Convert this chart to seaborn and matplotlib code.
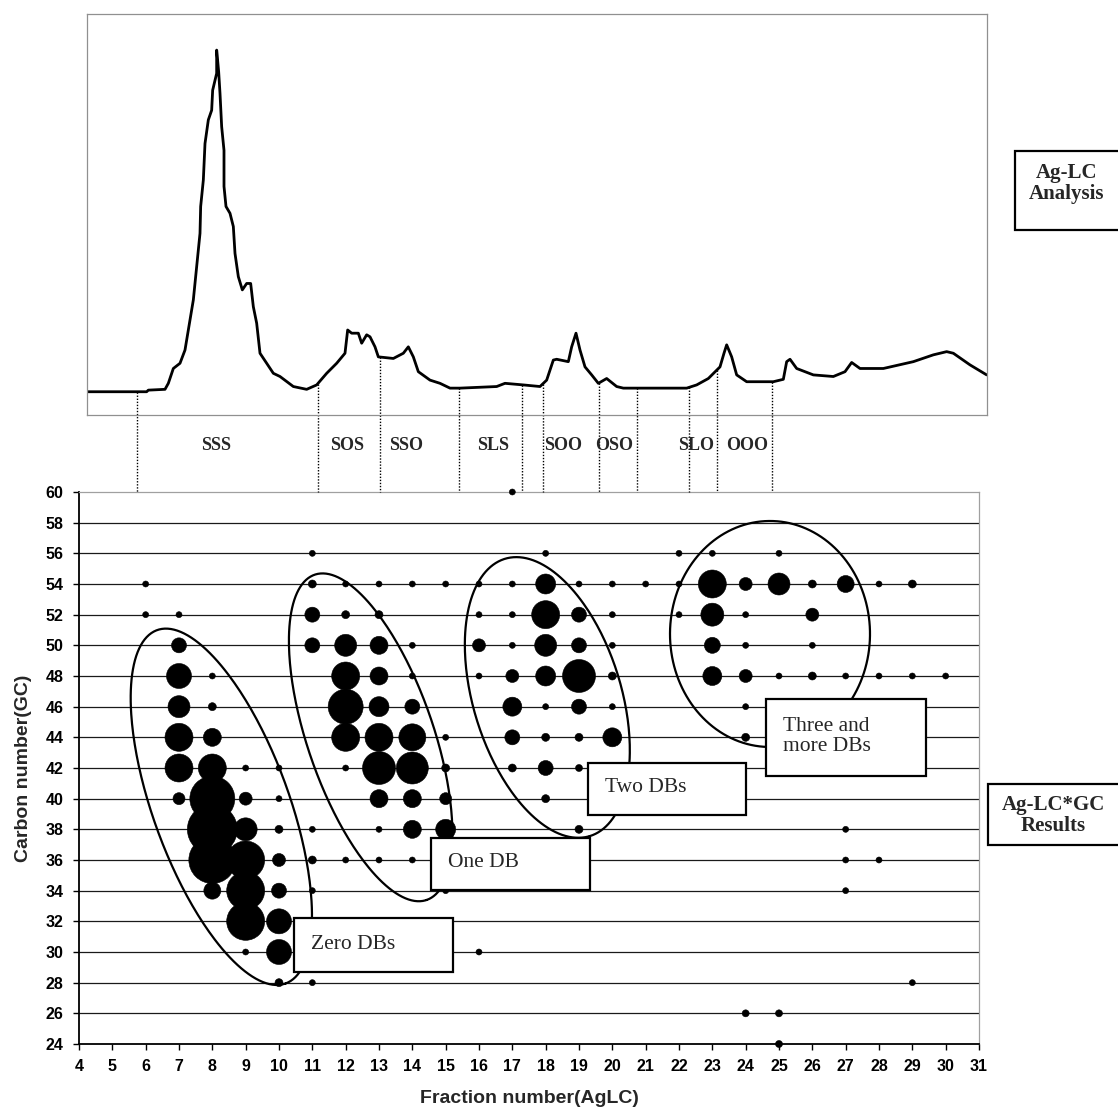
import numpy as np
import pandas as pd
import matplotlib
matplotlib.use("Agg")
import matplotlib.pyplot as plt
from matplotlib.patches import Rectangle
import seaborn as sns

# ---------------- data ----------------
# Ag-LC chromatogram trace (x in fraction units, height in % of panel)
trace_x = [4.23, 6.03, 6.08, 6.58, 6.68, 6.83, 7.03, 7.18, 7.28, 7.43,
           7.53, 7.63, 7.65, 7.73, 7.78, 7.88, 7.98, 8.01, 8.13, 8.13,
           8.19, 8.23, 8.28, 8.35, 8.35, 8.41, 8.53, 8.63, 8.68, 8.78,
           8.90, 9.03, 9.15, 9.23, 9.33, 9.43, 9.63, 9.83, 10.03, 10.43,
           10.83, 11.13, 11.43, 11.73, 11.98, 12.06, 12.18, 12.38, 12.48, 12.63,
           12.73, 12.88, 12.98, 13.43, 13.73, 13.88, 14.03, 14.18, 14.53, 14.83,
           15.13, 15.43, 16.53, 16.78, 17.33, 17.83, 18.03, 18.23, 18.33, 18.68,
           18.78, 18.91, 19.03, 19.18, 19.38, 19.58, 19.83, 20.13, 20.33, 22.23,
           22.53, 22.88, 23.23, 23.35, 23.43, 23.58, 23.73, 24.03, 24.83, 25.13,
           25.23, 25.33, 25.53, 26.03, 26.63, 26.98, 27.18, 27.43, 28.13, 29.03,
           29.63, 30.03, 30.23, 30.73, 31.23]
trace_h = [5.8, 5.8, 6.2, 6.4, 7.9, 11.6, 12.9, 16.2, 21.2, 28.7,
           37, 45.3, 52, 58.6, 67.7, 73.6, 76, 81, 85.2, 91,
           85.6, 80.2, 71.9, 66, 57, 52, 50.3, 47, 40.3, 34.5,
           31.2, 32.8, 32.8, 27, 22.9, 15.4, 12.9, 10.4, 9.6, 7.1,
           6.4, 7.5, 10.4, 12.9, 15.4, 21.2, 20.4, 20.4, 17.9, 20,
           19.5, 17, 14.5, 14.1, 15.4, 17, 14.5, 10.8, 8.7, 7.9,
           6.7, 6.7, 7.1, 7.9, 7.5, 7.1, 8.7, 13.7, 13.9, 13.3,
           17, 20.4, 16.2, 12, 10, 7.9, 9.1, 7.1, 6.7, 6.7,
           7.5, 9.1, 12, 15.4, 17.5, 14.5, 10, 8.3, 8.3, 8.9,
           13.3, 13.9, 11.6, 10, 9.6, 10.8, 13.1, 11.6, 11.6, 13.3,
           15, 15.8, 15.4, 12.5, 10]

# fraction cut points and TAG names
cut_x = [5.73, 11.16, 13.03, 15.41, 17.3, 17.91, 19.6, 20.73, 22.31, 23.15, 24.78]
tag_names = ["SSS", "SOS", "SSO", "SLS", "SOO", "OSO", "SLO", "OOO"]
tag_x = [8.1, 12.04, 13.81, 16.42, 18.52, 20.06, 22.52, 24.03]

# Ag-LC*GC spots: fraction, carbon number, spot diameter (px)
bub_frac = [17,
            11, 18, 22, 23, 25,
            6, 11, 12, 13, 14, 15, 16, 17, 18, 19, 20, 21, 22, 23, 24, 25, 26, 27, 28, 29,
            6, 7, 11, 12, 13, 16, 17, 18, 19, 20, 22, 23, 24, 26,
            7, 11, 12, 13, 14, 16, 17, 18, 19, 20, 23, 24, 26,
            7, 8, 12, 13, 14, 16, 17, 18, 19, 20, 23, 24, 25, 26, 27, 28, 29, 30,
            7, 8, 12, 13, 14, 17, 18, 19, 20, 24,
            7, 8, 12, 13, 14, 15, 17, 18, 19, 20, 24,
            7, 8, 9, 10, 12, 13, 14, 15, 17, 18, 19,
            7, 8, 9, 10, 13, 14, 15, 18,
            8, 9, 10, 11, 13, 14, 15, 19, 27,
            8, 9, 10, 11, 12, 13, 14, 27, 28,
            8, 9, 10, 11, 15, 27,
            9, 10,
            9, 10, 16,
            10, 11, 29,
            24, 25,
            25]
bub_carbon = ([60] + [56] * 5 + [54] * 20 + [52] * 14 + [50] * 13 + [48] * 18
              + [46] * 10 + [44] * 11 + [42] * 11 + [40] * 8 + [38] * 9 + [36] * 9
              + [34] * 6 + [32] * 2 + [30] * 3 + [28] * 3 + [26] * 2 + [24])
bub_spot = [6,
            6, 6, 6, 6, 6,
            6, 8, 6, 6, 6, 6, 6, 6, 20, 6, 6, 6, 6, 28, 13, 22, 8, 17, 6, 8,
            6, 6, 15, 8, 8, 6, 6, 28, 15, 6, 6, 23, 6, 13,
            15, 15, 22, 18, 6, 13, 6, 22, 15, 6, 16, 6, 6,
            25, 6, 28, 18, 6, 6, 13, 20, 33, 8, 19, 13, 6, 8, 6, 6, 6, 6,
            22, 8, 35, 20, 15, 19, 6, 15, 6, 6,
            28, 18, 28, 28, 27, 6, 15, 8, 8, 19, 8,
            28, 28, 6, 6, 6, 33, 32, 8, 8, 15, 7,
            12, 45, 13, 6, 18, 18, 12, 8,
            50, 23, 8, 6, 6, 18, 20, 8, 6,
            47, 38, 13, 8, 6, 6, 6, 6, 6,
            17, 38, 15, 6, 6, 6,
            38, 25,
            6, 25, 6,
            8, 6, 6,
            7, 7,
            7]

# DB-group ellipses: centre (fraction, carbon), semi-axes (px), tilt (deg)
groups = ["Zero DBs", "One DB", "Two DBs", "Three and\nmore DBs"]
ell_cx = [8.27, 12.75, 18.05, 24.73]
ell_cy = [39.47, 44.0, 46.6, 50.74]
ell_a = [188, 172, 145, 113]
ell_b = [68, 63, 74, 100]
ell_tilt = [20, 19, 17, 0]
# label boxes (x0, x1, y0, y1) and text anchor
box_x0 = [10.46, 14.56, 19.26, 24.6]
box_x1 = [15.21, 19.33, 24.01, 29.4]
box_y0 = [28.67, 34.04, 38.93, 41.47]
box_y1 = [32.19, 37.45, 42.34, 46.48]
lab_x = [10.95, 15.08, 19.78, 25.13]
lab_y = [30.5, 35.85, 40.75, 44.05]

# ---------------- figure ----------------
sns.set_theme(style="white")
plt.rcParams['font.family'] = ['Liberation Sans', 'DejaVu Sans']
SERIF = ['Liberation Serif', 'DejaVu Serif']

W, H = 1118, 1109
fig = plt.figure(figsize=(W / 100, H / 100), dpi=100)


def px_rect(l, t, r, b):
    return [l / W, 1 - b / H, (r - l) / W, (b - t) / H]


AX_L, AX_T, AX_R, AX_B = 79, 492, 979, 1044
XMIN, XMAX, YMIN, YMAX = 4, 31, 24, 60
ppx = (AX_R - AX_L) / (XMAX - XMIN)
ppy = (AX_B - AX_T) / (YMAX - YMIN)

ax = fig.add_axes(px_rect(AX_L, AX_T, AX_R, AX_B))
TOP_L, TOP_T, TOP_R, TOP_B = 86.7, 14, 987, 415
top = fig.add_axes(px_rect(TOP_L, TOP_T, TOP_R, TOP_B))

# ---- bubble chart ----
df = pd.DataFrame({"fraction": bub_frac, "carbon": bub_carbon, "spot": bub_spot})
df["area"] = df["spot"] ** 2
k = (72 / 100) ** 2
sns.scatterplot(data=df, x="fraction", y="carbon", size="area",
                sizes=(k * df["area"].min(), k * df["area"].max()),
                size_norm=(df["area"].min(), df["area"].max()),
                color="black", edgecolor="black", linewidth=0.4,
                legend=False, ax=ax, zorder=3, clip_on=False)

for yv in range(26, 60, 2):
    ax.axhline(yv, color="#1a1a1a", lw=0.9, zorder=1)

ax.set_xlim(XMIN, XMAX)
ax.set_ylim(YMIN, YMAX)
ax.set_xticks(range(4, 32))
ax.set_yticks(range(24, 61, 2))
ax.tick_params(direction="out", length=4, width=1, colors="black",
               labelsize=11.5, pad=7)
ax.tick_params(axis="both", which="both", bottom=True, left=True)
for lab in ax.get_xticklabels() + ax.get_yticklabels():
    lab.set_fontweight("bold")
for s in ["left", "bottom"]:
    ax.spines[s].set_color("black")
    ax.spines[s].set_linewidth(1.3)
for s in ["top", "right"]:
    ax.spines[s].set_color("#a0a0a0")
    ax.spines[s].set_linewidth(0.9)

ax.set_xlabel("Fraction number(AgLC)", fontsize=14, fontweight="bold")
ax.set_ylabel("Carbon number(GC)", fontsize=14, fontweight="bold")
ax.xaxis.set_label_coords(0.5, -0.083)
ax.yaxis.set_label_coords(-0.052, 0.5)

# ellipses drawn as true ellipses in pixel space
t = np.linspace(0, 2 * np.pi, 300)
for cx, cy, a, b, tilt in zip(ell_cx, ell_cy, ell_a, ell_b, ell_tilt):
    th = np.radians(tilt)
    ux, uy = np.sin(th), -np.cos(th)
    vx, vy = np.cos(th), np.sin(th)
    ox = a * np.cos(t) * ux + b * np.sin(t) * vx
    oy = a * np.cos(t) * uy + b * np.sin(t) * vy
    ax.plot(cx + ox / ppx, cy + oy / ppy, color="black", lw=1.6, zorder=4,
            clip_on=False)

for name, x0, x1, y0, y1, lx, ly in zip(groups, box_x0, box_x1, box_y0, box_y1,
                                        lab_x, lab_y):
    ax.add_patch(Rectangle((x0, y0), x1 - x0, y1 - y0, facecolor="white",
                           edgecolor="black", lw=1.6, zorder=5))
    ax.text(lx, ly, name, ha="left", va="center", fontsize=15.5,
            family=SERIF, zorder=6, linespacing=1.05)

# ---- chromatogram panel ----
sns.lineplot(x=trace_x, y=trace_h, ax=top, color="black", lw=2.0,
             estimator=None, sort=False)
top.set_xlim(4 + (TOP_L - AX_L) / ppx, 4 + (TOP_R - AX_L) / ppx)
top.set_ylim(0, 100)
top.set_xticks([])
top.set_yticks([])
for s in top.spines.values():
    s.set_color("#909090")
    s.set_linewidth(0.9)

ppt = (TOP_B - TOP_T) / 100.0
drop_end = -(AX_T - TOP_B) / ppt
for cx in cut_x:
    yh = np.interp(cx, trace_x, trace_h)
    top.plot([cx, cx], [yh, drop_end], color="black", lw=1.0,
             ls=(0, (1, 1.2)), clip_on=False)

lab_off = -(445 - TOP_B) / ppt
for name, x in zip(tag_names, tag_x):
    top.text(x, lab_off, name, ha="center", va="center", fontsize=13,
             fontweight="bold", family=SERIF)

# ---- side boxes ----
fig.add_artist(Rectangle((1015 / W, 1 - 230 / H), 0.2, 79 / H,
                         transform=fig.transFigure, facecolor="white",
                         edgecolor="black", lw=1.6))
fig.text(1067 / W, 1 - 183.5 / H, "Ag-LC\nAnalysis", ha="center", va="center",
         fontsize=15, fontweight="bold", family=SERIF, linespacing=1.05)
fig.add_artist(Rectangle((988 / W, 1 - 845 / H), 0.2, 61 / H,
                         transform=fig.transFigure, facecolor="white",
                         edgecolor="black", lw=1.6))
fig.text(1053 / W, 1 - 815.5 / H, "Ag-LC*GC\nResults", ha="center", va="center",
         fontsize=15, fontweight="bold", family=SERIF, linespacing=1.05)

fig.savefig("out.png", dpi=100)
